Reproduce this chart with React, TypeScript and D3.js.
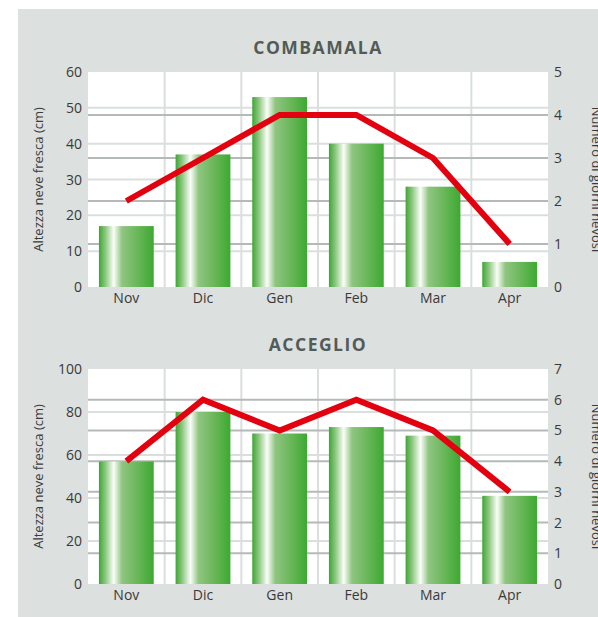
import React from 'react';
import * as d3 from 'd3';

// months on the x axis
const months = ['Nov', 'Dic', 'Gen', 'Feb', 'Mar', 'Apr'];

// COMBAMALA
const combamalaSnow = [17, 37, 53, 40, 28, 7];
const combamalaDays = [2, 3, 4, 4, 3, 1];
const combamalaLeftTicks = [0, 10, 20, 30, 40, 50, 60];
const combamalaRightTicks = [0, 1, 2, 3, 4, 5];

// ACCEGLIO
const acceglioSnow = [57, 80, 70, 73, 69, 41];
const acceglioDays = [4, 6, 5, 6, 5, 3];
const acceglioLeftTicks = [0, 20, 40, 60, 80, 100];
const acceglioRightTicks = [0, 1, 2, 3, 4, 5, 6, 7];

const W = 598;
const H = 617;
const plotLeft = 88;
const plotRight = 548;
const plotH = 215;
const font = '"Open Sans", "Noto Sans", sans-serif';

type PanelProps = {
  id: string;
  title: string;
  top: number;
  snow: number[];
  days: number[];
  leftTicks: number[];
  rightTicks: number[];
};

const Panel = ({ id, title, top, snow, days, leftTicks, rightTicks }: PanelProps) => {
  const bottom = top + plotH;
  const x = d3.scaleBand().domain(months).range([plotLeft, plotRight]).paddingInner(0).paddingOuter(0);
  const yL = d3
    .scaleLinear()
    .domain([0, leftTicks[leftTicks.length - 1]])
    .range([bottom, top]);
  const yR = d3
    .scaleLinear()
    .domain([0, rightTicks[rightTicks.length - 1]])
    .range([bottom, top]);
  const bw = x.bandwidth();
  const barW = bw * 0.715;

  const line = d3
    .line<number>()
    .x((d, i) => (x(months[i]) as number) + bw / 2)
    .y((d) => yR(d));

  const midY = (top + bottom) / 2;

  return (
    <g>
      <text
        x={318}
        y={top - 18}
        textAnchor="middle"
        fontFamily={font}
        fontWeight="bold"
        fontSize={17.5}
        letterSpacing={1.5}
        fill="#535b58"
      >
        {title}
      </text>
      <rect x={plotLeft} y={top} width={plotRight - plotLeft} height={plotH} fill="#ffffff" />
      {/* vertical grid */}
      {months.slice(1).map((m) => (
        <line
          key={'v' + m}
          x1={x(m)}
          x2={x(m)}
          y1={top}
          y2={bottom}
          stroke="#dadfdd"
          strokeWidth={2}
        />
      ))}
      {/* left axis grid */}
      {leftTicks.slice(1, -1).map((t) => (
        <line
          key={'gl' + t}
          x1={plotLeft}
          x2={plotRight}
          y1={yL(t)}
          y2={yL(t)}
          stroke="#dadfdd"
          strokeWidth={2}
        />
      ))}
      {/* right axis grid */}
      {rightTicks.slice(1, -1).map((t) => (
        <line
          key={'gr' + t}
          x1={plotLeft}
          x2={plotRight}
          y1={yR(t)}
          y2={yR(t)}
          stroke="#b5bab8"
          strokeWidth={2}
        />
      ))}
      {snow.map((v, i) => (
        <rect
          key={'b' + i}
          x={(x(months[i]) as number) + (bw - barW) / 2}
          y={yL(v)}
          width={barW}
          height={bottom - yL(v)}
          fill={`url(#${id}-grad)`}
        />
      ))}
      <path
        d={line(days) || ''}
        fill="none"
        stroke="#e3000f"
        strokeWidth={6}
        strokeLinejoin="miter"
      />
      {/* ticks */}
      {leftTicks.map((t) => (
        <text
          key={'tl' + t}
          x={82}
          y={yL(t)}
          dy="0.36em"
          textAnchor="end"
          fontFamily={font}
          fontSize={14}
          fill="#3a3a3a"
        >
          {t}
        </text>
      ))}
      {rightTicks.map((t) => (
        <text
          key={'tr' + t}
          x={554}
          y={yR(t)}
          dy="0.36em"
          textAnchor="start"
          fontFamily={font}
          fontSize={14}
          fill="#3a3a3a"
        >
          {t}
        </text>
      ))}
      {months.map((m) => (
        <text
          key={'tm' + m}
          x={(x(m) as number) + bw / 2}
          y={bottom + 16}
          textAnchor="middle"
          fontFamily={font}
          fontSize={14}
          fill="#3a3a3a"
        >
          {m}
        </text>
      ))}
      <text
        transform={`translate(43, ${midY}) rotate(-90)`}
        textAnchor="middle"
        fontFamily={font}
        fontSize={13}
        fill="#3a3a3a"
      >
        Altezza neve fresca (cm)
      </text>
      <text
        transform={`translate(592, ${midY}) rotate(90)`}
        textAnchor="middle"
        fontFamily={font}
        fontSize={13}
        fill="#3a3a3a"
      >
        Numero di giorni nevosi
      </text>
    </g>
  );
};

const App = () => {
  return (
    <div style={{ position: 'absolute', left: 0, top: 0 }}>
      <svg width={W} height={H} style={{ display: 'block' }}>
        <defs>
          {['c', 'a'].map((k) => (
            <linearGradient key={k} id={k + '-grad'} x1="0" x2="1" y1="0" y2="0">
              <stop offset="0" stopColor="#3fa535" />
              <stop offset="0.12" stopColor="#8cc880" />
              <stop offset="0.27" stopColor="#fbfdf9" />
              <stop offset="0.42" stopColor="#8fc581" />
              <stop offset="0.7" stopColor="#6ab75a" />
              <stop offset="1" stopColor="#3ca931" />
            </linearGradient>
          ))}
        </defs>
        <rect x={0} y={0} width={W} height={H} fill="#ffffff" />
        <rect x={18} y={9} width={W - 18} height={H - 9} fill="#dce0de" />
        <Panel
          id="c"
          title="COMBAMALA"
          top={72}
          snow={combamalaSnow}
          days={combamalaDays}
          leftTicks={combamalaLeftTicks}
          rightTicks={combamalaRightTicks}
        />
        <Panel
          id="a"
          title="ACCEGLIO"
          top={369}
          snow={acceglioSnow}
          days={acceglioDays}
          leftTicks={acceglioLeftTicks}
          rightTicks={acceglioRightTicks}
        />
      </svg>
    </div>
  );
};

export default App;
